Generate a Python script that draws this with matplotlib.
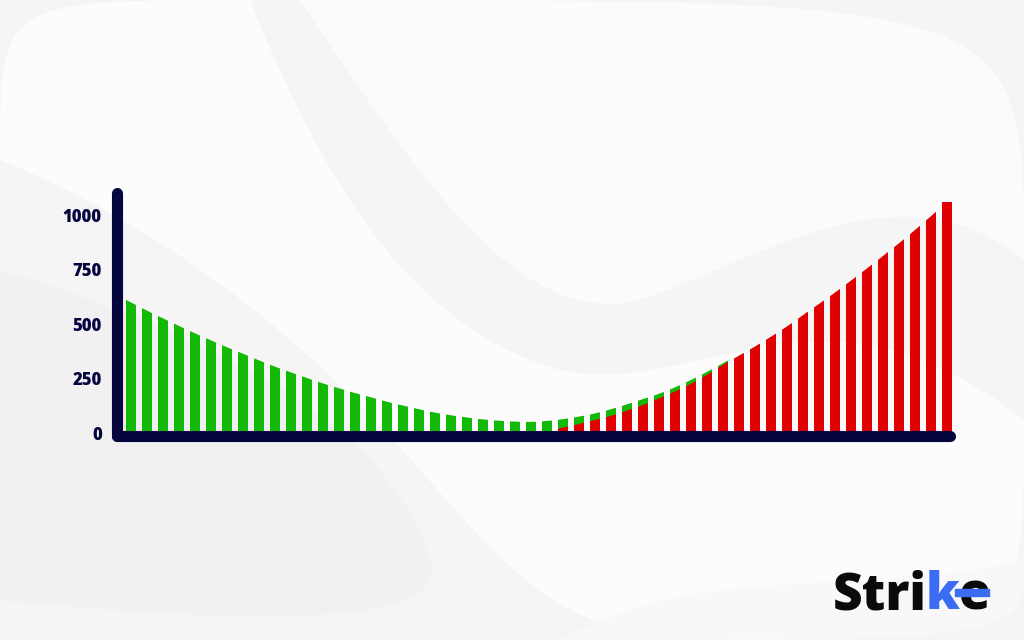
import matplotlib
matplotlib.use("Agg")
import matplotlib.pyplot as plt
import numpy as np
from matplotlib.path import Path
from matplotlib.patches import PathPatch, Rectangle

# ---- data ----
green_values = [599, 561, 526, 491, 457, 425, 393, 364, 333, 304,
                278, 252, 227, 205, 183, 164, 143, 126, 109, 93,
                81, 71, 62, 56, 52, 50, 55, 63, 75, 89,
                109, 131, 156, 179, 209, 243, 280, 320]
red_values = [25, 41, 60, 78, 103, 128, 159, 190, 226, 266,
              313, 355, 396, 442, 488, 541, 592, 644, 699, 755,
              812, 870, 931, 995, 1058]
red_start = 27  # index of the first red bar
y_ticks = [0, 250, 500, 750, 1000]
y_tick_labels = ["0", "250", "500", "750", "1000"]

GREEN = "#13ba05"
RED = "#e10000"
NAVY = "#05053f"
BLUE = "#3a6cf4"
BAR_W = 0.625

fig = plt.figure(figsize=(10.24, 6.4), dpi=100)
fig.patch.set_facecolor("#f5f5f5")

# decorative background swooshes
bg = fig.add_axes([0, 0, 1, 1], zorder=-5)
bg.set_xlim(0, 1024); bg.set_ylim(640, 0); bg.axis("off")
def blob(pts, color):
    codes = [Path.MOVETO] + [Path.CURVE4] * (len(pts) - 2) + [Path.CLOSEPOLY]
    bg.add_patch(PathPatch(Path(pts, codes), facecolor=color, edgecolor="none"))
blob([(250, 0), (330, 200), (420, 330), (560, 370),
      (700, 400), (820, 260), (1024, 420),
      (1024, 640), (1024, 640), (700, 640),
      (560, 640), (500, 560), (420, 470),
      (300, 330), (150, 220), (0, 160),
      (0, 0), (0, 0), (250, 0), (250, 0)], "#fcfcfc")
blob([(300, 0), (420, 180), (520, 330), (640, 300),
      (760, 260), (900, 160), (1024, 260),
      (1024, 0), (1024, 0), (300, 0), (300, 0)], "#fbfbfb")
blob([(0, 270), (200, 330), (390, 420), (430, 560),
      (450, 620), (300, 630), (0, 600),
      (0, 270), (0, 270), (0, 270), (0, 270)], "#f1f1f1")
blob([(560, 640), (700, 560), (850, 600), (1024, 560),
      (1024, 640), (1024, 640), (560, 640), (560, 640)], "#f8f8f8")

ax = fig.add_axes([117 / 1024, 1 - 433 / 640, (955 - 117) / 1024, (433 - 188) / 640])
ax.set_facecolor("none")

def slanted_bars(x, values, color, z, flat_last=False):
    x = np.asarray(x, float)
    v = np.asarray(values, float)
    slope_l = v[1] - v[0]
    slope_r = v[-1] - v[-2]
    xx = np.concatenate([[x[0] - 1], x, [x[-1] + 1]])
    vv = np.concatenate([[v[0] - slope_l], v, [v[-1] + slope_r]])
    for i, xi in enumerate(x):
        xl, xr = xi - BAR_W / 2, xi + BAR_W / 2
        yl, yr = np.interp(xl, xx, vv), np.interp(xr, xx, vv)
        if flat_last and i == len(x) - 1:
            yl = yr = v[i]
        ax.fill([xl, xl, xr, xr], [0, yl, yr, 0], color=color, lw=0, zorder=z)

xg = np.arange(len(green_values))
xr = np.arange(red_start, red_start + len(red_values))
slanted_bars(xg, green_values, GREEN, 2)
slanted_bars(xr, red_values, RED, 3, flat_last=True)

ax.set_xlim(-0.875, 51.5)
ax.set_ylim(0, 1124)
for s in ax.spines.values():
    s.set_visible(False)
ax.set_xticks([])
ax.set_yticks(y_ticks)
ax.set_yticklabels(y_tick_labels, fontfamily="Open Sans", fontweight="heavy",
                   fontsize=12, color=NAVY)
ax.tick_params(axis="y", length=0, pad=11)

ax.plot([-0.875, 51.19], [-14, -14], color=NAVY, lw=8, solid_capstyle="round",
        clip_on=False, zorder=5)
ax.plot([-0.875, -0.875], [-14, 1101], color=NAVY, lw=8, solid_capstyle="round",
        clip_on=False, zorder=5)

# logo "Strike" with blue k
renderer = fig.canvas.get_renderer()
x0 = 833
base = 1 - 609 / 640
pieces = [("Stri", "#0a0a0a"), ("k", BLUE), ("e", "#0a0a0a")]
xpos = x0
ext_e = None
for txt, col in pieces:
    t = fig.text(xpos / 1024, base, txt, fontfamily="Open Sans", fontweight="heavy",
                 fontsize=37, color=col, ha="left", va="baseline")
    bb = t.get_window_extent(renderer)
    xpos = bb.x1 - 1
    ext_e = bb
fig.add_artist(Rectangle(((ext_e.x0 - 4) / 1024, 1 - 596 / 640), (ext_e.x1 - ext_e.x0 + 2) / 1024,
                         7 / 640, transform=fig.transFigure, color=BLUE, zorder=10))

fig.savefig("out.png", dpi=100, facecolor=fig.get_facecolor())
